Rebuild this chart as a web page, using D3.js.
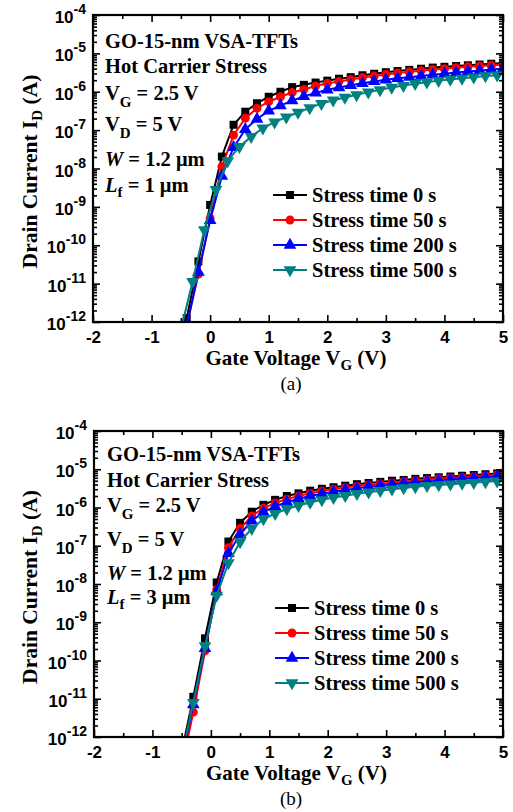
<!DOCTYPE html>
<html><head><meta charset="utf-8">
<script src="https://cdn.jsdelivr.net/npm/d3@7"></script>
<style>body{margin:0;background:#fff}svg{display:block}</style></head>
<body><svg id="c" width="513" height="812"></svg>
<script>
// ---- data (log10 of drain current in A) ----
const VG_EVEN=[-0.4,-0.2,0,0.2,0.4,0.6,0.8,1.0,1.2,1.4,1.6,1.8,2.0,2.2,2.4,2.6,2.8,3.0,3.2,3.4,3.6,3.8,4.0,4.2,4.4,4.6,4.8,5.0];
const VG_ODD=[-0.5,-0.3,-0.1,0.1,0.3,0.5,0.7,0.9,1.1,1.3,1.5,1.7,1.9,2.1,2.3,2.5,2.7,2.9,3.1,3.3,3.5,3.7,3.9,4.1,4.3,4.5,4.7,4.9];

const A_LOG_T0=[-11.9,-10.42,-8.95,-7.69,-6.86,-6.52,-6.30,-6.13,-6.00,-5.88,-5.82,-5.76,-5.71,-5.66,-5.62,-5.57,-5.53,-5.49,-5.46,-5.43,-5.40,-5.37,-5.35,-5.33,-5.31,-5.29,-5.27,-5.25];
const A_LOG_T50=[-12.1,-10.75,-9.3,-7.95,-7.13,-6.69,-6.43,-6.26,-6.13,-6.02,-5.94,-5.85,-5.78,-5.73,-5.68,-5.63,-5.59,-5.55,-5.51,-5.48,-5.45,-5.42,-5.40,-5.37,-5.35,-5.33,-5.31,-5.29];
const A_LOG_T200=[-12.1,-10.7,-9.35,-8.2,-7.45,-6.98,-6.71,-6.5,-6.36,-6.23,-6.12,-6.03,-5.95,-5.89,-5.83,-5.78,-5.73,-5.69,-5.65,-5.62,-5.59,-5.56,-5.53,-5.5,-5.47,-5.45,-5.42,-5.40];
const A_LOG_T500=[-12.2,-10.95,-9.6,-8.55,-7.8,-7.43,-7.17,-6.95,-6.79,-6.66,-6.54,-6.42,-6.31,-6.22,-6.15,-6.08,-6.01,-5.95,-5.89,-5.84,-5.79,-5.75,-5.71,-5.68,-5.65,-5.62,-5.59,-5.57];

const B_LOG_T0=[-12.4,-10.95,-9.42,-7.96,-6.89,-6.40,-6.11,-5.93,-5.80,-5.70,-5.63,-5.56,-5.51,-5.47,-5.43,-5.39,-5.36,-5.33,-5.30,-5.28,-5.25,-5.23,-5.21,-5.19,-5.17,-5.15,-5.13,-5.11];
const B_LOG_T50=[-12.8,-11.35,-9.75,-8.15,-7.05,-6.55,-6.22,-6.02,-5.88,-5.78,-5.70,-5.63,-5.57,-5.52,-5.48,-5.44,-5.41,-5.38,-5.35,-5.32,-5.30,-5.27,-5.25,-5.23,-5.21,-5.19,-5.17,-5.15];
const B_LOG_T200=[-12.6,-11.15,-9.68,-8.2,-7.2,-6.7,-6.35,-6.12,-5.97,-5.86,-5.77,-5.70,-5.64,-5.59,-5.54,-5.50,-5.46,-5.43,-5.40,-5.37,-5.34,-5.32,-5.30,-5.27,-5.25,-5.23,-5.21,-5.19];
const B_LOG_T500=[-12.5,-11.1,-9.62,-8.3,-7.45,-6.9,-6.55,-6.3,-6.16,-6.04,-5.95,-5.87,-5.80,-5.74,-5.69,-5.64,-5.60,-5.56,-5.52,-5.49,-5.46,-5.43,-5.41,-5.39,-5.37,-5.35,-5.33,-5.31];

const SERIES_NAMES=["Stress time 0 s","Stress time 50 s","Stress time 200 s","Stress time 500 s"];
const X_TICKS=[-2,-1,0,1,2,3,4,5];
const X_TICK_LABELS=["-2","-1","0","1","2","3","4","5"];
const Y_EXPONENTS=[-4,-5,-6,-7,-8,-9,-10,-11,-12];
const Y_TICK_EXP_LABELS=["-4","-5","-6","-7","-8","-9","-10","-11","-12"];

// ---- styles ----
const COLORS=["#000000","#ff0000","#0000ff","#008080"];
const SYMBOLS=[d3.symbolSquare,d3.symbolCircle,d3.symbolTriangle,"down"];
const SERIF="'Liberation Serif','Times New Roman',serif";
const SANS="'Liberation Sans',Arial,sans-serif";

const svg=d3.select("#c");

function marker(g,i,cx,cy){
  if(SYMBOLS[i]==="down"){
    const s=d3.symbol().type(d3.symbolTriangle).size(70);
    g.append("path").attr("d",s()).attr("transform",`translate(${cx},${cy}) rotate(180)`).attr("fill",COLORS[i]);
  } else {
    const size=i===0?64:(i===1?62:70);
    g.append("path").attr("d",d3.symbol().type(SYMBOLS[i]).size(size)()).attr("transform",`translate(${cx},${cy})`).attr("fill",COLORS[i]);
  }
}

function panel(cfg){
  const x=d3.scaleLinear().domain([-2,5]).range([cfg.x0,cfg.x1]);
  const y=d3.scaleLog().domain([1e-12,1e-4]).range([cfg.y1,cfg.y0]);
  const id="clip"+cfg.key;
  svg.append("clipPath").attr("id",id).append("rect")
    .attr("x",cfg.x0).attr("y",cfg.y0).attr("width",cfg.x1-cfg.x0).attr("height",cfg.y1-cfg.y0);

  // data
  const plot=svg.append("g").attr("clip-path",`url(#${id})`);
  const line=d3.line().x(d=>x(d[0])).y(d=>y(Math.pow(10,d[1])));
  cfg.series.forEach((s,i)=>{
    const pts=s.vg.map((v,k)=>[v,s.log[k]]);
    plot.append("path").attr("d",line(pts)).attr("fill","none").attr("stroke",COLORS[i]).attr("stroke-width",2);
    const mg=plot.append("g");
    pts.forEach(p=>marker(mg,i,x(p[0]),y(Math.pow(10,p[1]))));
  });

  // axes ticks
  const minorX=d3.range(-1.5,5,1);
  const axB=svg.append("g").attr("transform",`translate(0,${cfg.y1})`);
  axB.call(d3.axisBottom(x).tickValues(X_TICKS).tickSize(-7).tickFormat((d,i)=>X_TICK_LABELS[i]));
  axB.append("g").call(d3.axisBottom(x).tickValues(minorX).tickSize(-4).tickFormat(""));
  const axT=svg.append("g").attr("transform",`translate(0,${cfg.y0})`);
  axT.call(d3.axisTop(x).tickValues(X_TICKS).tickSize(-7).tickFormat(""));
  axT.append("g").call(d3.axisTop(x).tickValues(minorX).tickSize(-4).tickFormat(""));

  const majorY=Y_EXPONENTS.map(e=>Math.pow(10,e));
  const minorY=[];
  for(let e=-12;e<-4;e++) for(let m=2;m<=9;m++) minorY.push(m*Math.pow(10,e));
  const axL=svg.append("g").attr("transform",`translate(${cfg.x0},0)`);
  axL.call(d3.axisLeft(y).tickValues(majorY).tickSize(-7).tickFormat(""));
  axL.append("g").call(d3.axisLeft(y).tickValues(minorY).tickSize(-4).tickFormat(""));
  const axR=svg.append("g").attr("transform",`translate(${cfg.x1},0)`);
  axR.call(d3.axisRight(y).tickValues(majorY).tickSize(-7).tickFormat(""));
  axR.append("g").call(d3.axisRight(y).tickValues(minorY).tickSize(-4).tickFormat(""));

  svg.selectAll(".domain").remove();
  svg.selectAll(".tick line").attr("stroke","#000").attr("stroke-width",1.6);
  axB.selectAll(".tick text").attr("font-family",SANS).attr("font-weight","bold")
     .attr("font-size",17).attr("fill","#000").attr("dy",0).attr("y",21);

  // y labels with superscripts
  Y_EXPONENTS.forEach((e,k)=>{
    const ty=y(Math.pow(10,e));
    const t=svg.append("text").attr("x",cfg.x0-7).attr("y",ty+8).attr("text-anchor","end")
      .attr("font-family",SANS).attr("font-weight","bold").attr("font-size",17).attr("fill","#000");
    t.append("tspan").text("10");
    t.append("tspan").attr("font-size",14).attr("dy",-9).text(Y_TICK_EXP_LABELS[k]);
  });

  // frame
  svg.append("rect").attr("x",cfg.x0).attr("y",cfg.y0).attr("width",cfg.x1-cfg.x0).attr("height",cfg.y1-cfg.y0)
    .attr("fill","none").attr("stroke","#000").attr("stroke-width",2.2);

  // axis titles
  const xt=svg.append("text").attr("x",(cfg.x0+cfg.x1)/2-2).attr("y",cfg.y1+43).attr("text-anchor","middle")
    .attr("font-family",SERIF).attr("font-weight","bold").attr("font-size",21);
  xt.append("tspan").text("Gate Voltage V");
  xt.append("tspan").attr("font-size",15).attr("dy",5).text("G");
  xt.append("tspan").attr("dy",-5).text(" (V)");

  const ycx=37, ycy=(cfg.y0+cfg.y1)/2+3;
  const yt=svg.append("text").attr("transform",`translate(${ycx},${ycy}) rotate(-90)`).attr("text-anchor","middle")
    .attr("font-family",SERIF).attr("font-weight","bold").attr("font-size",21.5);
  yt.append("tspan").text("Drain Current I");
  yt.append("tspan").attr("font-size",15).attr("dy",5).text("D");
  yt.append("tspan").attr("dy",-5).text(" (A)");

  // caption
  svg.append("text").attr("x",291).attr("y",cfg.capY).attr("text-anchor","middle")
    .attr("font-family",SERIF).attr("font-size",19).text(cfg.caption);

  // annotation
  const ann=svg.append("g").attr("font-family",SERIF).attr("font-weight","bold").attr("font-size",20.5).attr("fill","#000");
  const ax=cfg.annX, B=cfg.annY;
  ann.append("text").attr("x",ax).attr("y",B[0]).text("GO-15-nm VSA-TFTs");
  ann.append("text").attr("x",ax).attr("y",B[1]).text("Hot Carrier Stress");
  let t=ann.append("text").attr("x",ax).attr("y",B[2]);
  t.append("tspan").text("V"); t.append("tspan").attr("font-size",15).attr("dy",7).text("G"); t.append("tspan").attr("dy",-7).text(" = 2.5 V");
  t=ann.append("text").attr("x",ax).attr("y",B[3]);
  t.append("tspan").text("V"); t.append("tspan").attr("font-size",15).attr("dy",7).text("D"); t.append("tspan").attr("dy",-7).text(" = 5 V");
  t=ann.append("text").attr("x",ax).attr("y",B[4]);
  t.append("tspan").attr("font-style","italic").text("W"); t.append("tspan").text(" = 1.2 μm");
  t=ann.append("text").attr("x",ax).attr("y",B[5]);
  t.append("tspan").attr("font-style","italic").text("L"); t.append("tspan").attr("font-size",15).attr("dy",5).text("f");
  t.append("tspan").attr("dy",-5).text(" = "+cfg.lf+" μm");

  // legend
  const lg=svg.append("g");
  SERIES_NAMES.forEach((n,i)=>{
    const cy=cfg.legY+i*25;
    lg.append("line").attr("x1",cfg.legX).attr("x2",cfg.legX+34).attr("y1",cy).attr("y2",cy)
      .attr("stroke",COLORS[i]).attr("stroke-width",2);
    marker(lg,i,cfg.legX+17,cy);
    lg.append("text").attr("x",cfg.legX+39).attr("y",cy+7).attr("font-family",SERIF).attr("font-weight","bold")
      .attr("font-size",20.5).text(n);
  });
}

panel({key:"a",x0:93,x1:503,y0:15,y1:322,capY:390,caption:"(a)",annX:105,annY:[48,73,100,131,166,192],lf:"1",
  legX:273,legY:195,
  series:[{vg:VG_EVEN,log:A_LOG_T0},{vg:VG_EVEN,log:A_LOG_T50},{vg:VG_EVEN,log:A_LOG_T200},{vg:VG_ODD,log:A_LOG_T500}]});
panel({key:"b",x0:94,x1:503,y0:431,y1:737,capY:805,caption:"(b)",annX:107,annY:[461,487,512,546,580,604],lf:"3",
  legX:275,legY:608,
  series:[{vg:VG_ODD,log:B_LOG_T0},{vg:VG_ODD,log:B_LOG_T50},{vg:VG_ODD,log:B_LOG_T200},{vg:VG_ODD,log:B_LOG_T500}]});
</script></body></html>
